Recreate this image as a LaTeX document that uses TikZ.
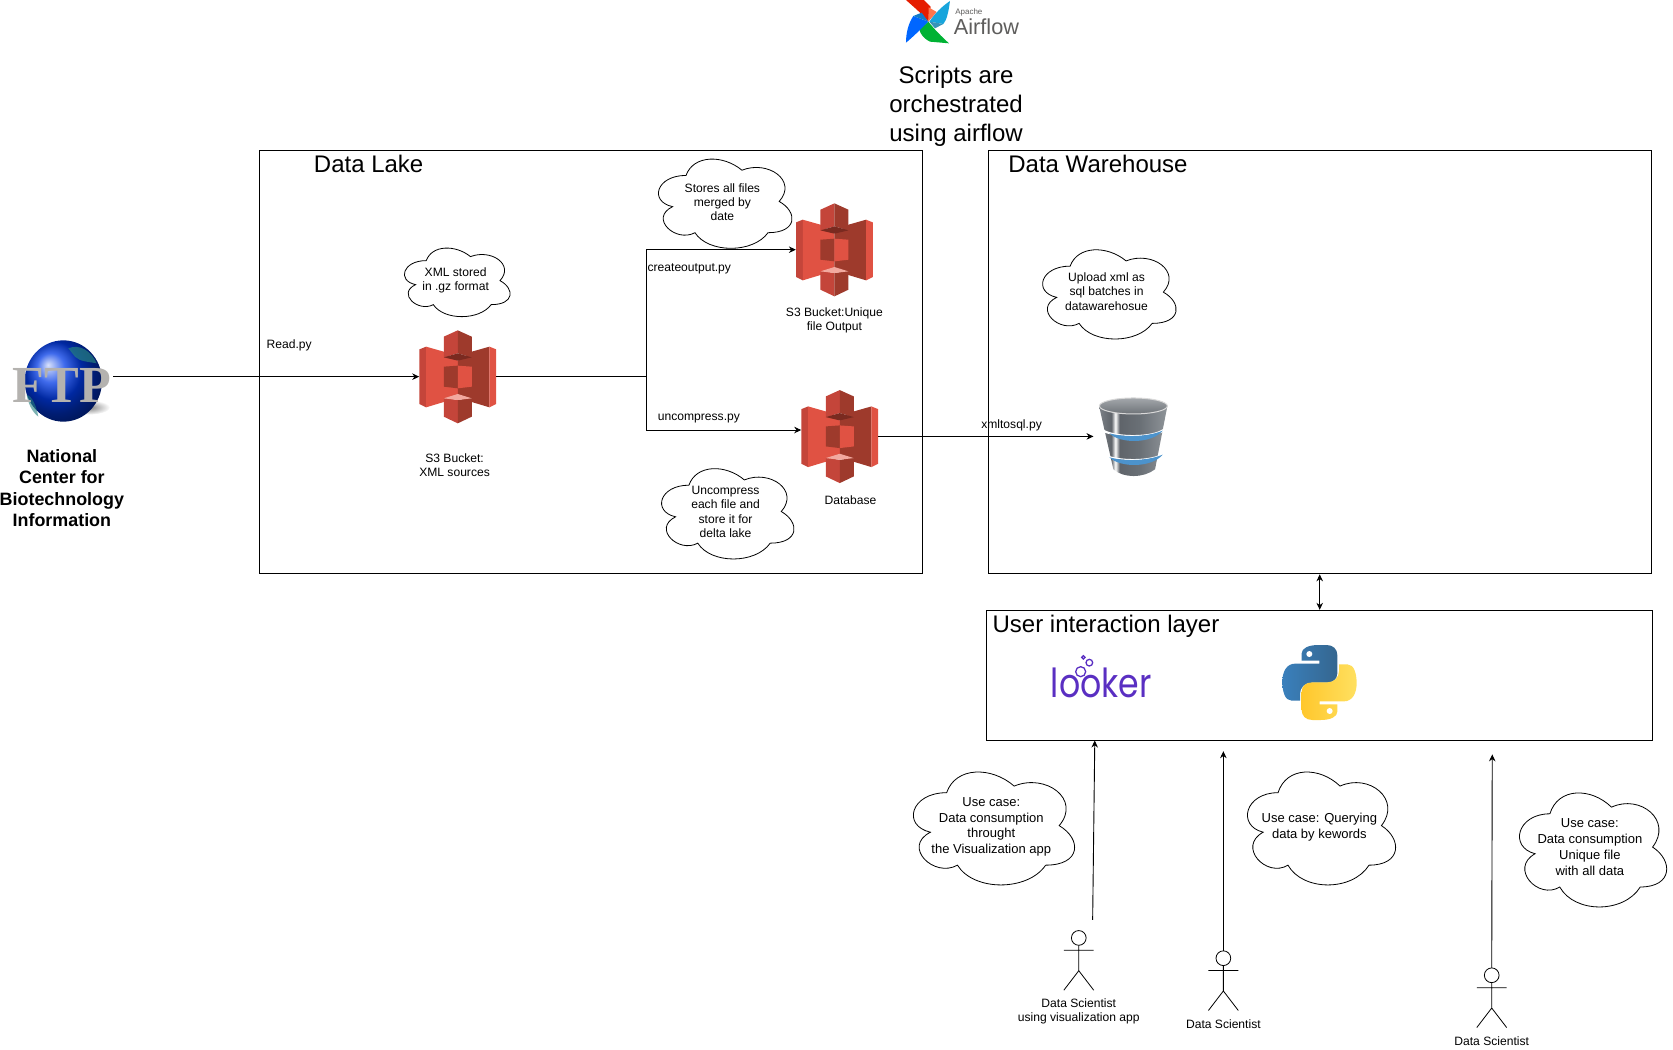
\documentclass[tikz,border=0pt]{standalone}
\usepackage{fontspec}
\setmainfont{Liberation Sans}
\newfontfamily\ftpface{Liberation Serif}
\newfontfamily\lookerface[FakeStretch=.83]{Poppins}
\usepackage{xcolor}
\usetikzlibrary{arrows.meta}

\definecolor{sthreeA}{HTML}{E05243}
\definecolor{sthreeB}{HTML}{C4453A}
\definecolor{sthreeC}{HTML}{9E3A2C}
\definecolor{sthreeD}{HTML}{7A2A20}
\definecolor{sthreeE}{HTML}{F2A99F}
\definecolor{lookerpurple}{HTML}{5A2FC2}
\definecolor{pyblueA}{HTML}{3A80BC}
\definecolor{pyblueB}{HTML}{35668F}
\definecolor{pyyellowA}{HTML}{FFC72C}
\definecolor{pyyellowB}{HTML}{FFE060}
\definecolor{ftpgrey}{HTML}{B4B2AF}
\definecolor{airgrey}{HTML}{5E5D5C}
\definecolor{dbA}{HTML}{7C8187}
\definecolor{dbB}{HTML}{5F646A}
\definecolor{dbC}{HTML}{6A7076}
\definecolor{dbD}{HTML}{8F9499}
\definecolor{dbE}{HTML}{A3A7AB}
\definecolor{dbF}{HTML}{6E7378}
\definecolor{dbband}{HTML}{4C93CC}

\pgfdeclarehorizontalshading{dbbody}{100bp}{
	color(0bp)=(dbA);
	color(25bp)=(dbA);
	color(34bp)=(dbB);
	color(37bp)=(white);
	color(40bp)=(dbB);
	color(55bp)=(dbC);
	color(75bp)=(dbD);
	color(100bp)=(dbD)}

\tikzset{
	panel/.style={draw,line width=1pt,inner sep=0pt},
	small/.style={align=center,inner sep=0pt,yshift=-.6pt,font=\fontsize{12.1}{14.4}\selectfont},
	medium/.style={align=center,inner sep=0pt,yshift=-2pt,font=\fontsize{13}{15.7}\selectfont},
	title/.style={align=center,inner sep=0pt,font=\fontsize{24}{28.8}\selectfont},
	flow/.style={line width=.9pt,-{Stealth[length=7pt,width=6.5pt]}},
	pics/bubble/.style 2 args={code={
		\draw[line width=.8pt] (0.25*#1,0.25*#2)
			.. controls (0.05*#1,0.25*#2) and (0,0.5*#2) .. (0.16*#1,0.55*#2)
			.. controls (0,0.66*#2) and (0.18*#1,0.9*#2) .. (0.31*#1,0.8*#2)
			.. controls (0.4*#1,#2) and (0.7*#1,#2) .. (0.8*#1,0.8*#2)
			.. controls (#1,0.8*#2) and (#1,0.6*#2) .. (0.875*#1,0.5*#2)
			.. controls (#1,0.3*#2) and (0.8*#1,0.1*#2) .. (0.625*#1,0.2*#2)
			.. controls (0.5*#1,0.05*#2) and (0.3*#1,0.05*#2) .. cycle;
	}},
	pics/sthree/.style={code={
		\node[inner sep=0pt,minimum width=76.7pt,minimum height=93pt] (-box) at (0,0) {};
		\begin{scope}[x=.3333pt,y=-.3333pt]
			% wings
			\fill[sthreeB] (-115,-82) -- (-95,-90) -- (-95,92) -- (-115,82) -- cycle;
			\fill[sthreeA] (-95,-90) -- (-42,-75) -- (0,-48) -- (0,65) -- (-42,76) -- (-95,92) -- cycle;
			\fill[sthreeC] (95,-90) -- (42,-75) -- (0,-48) -- (0,65) -- (42,76) -- (95,92) -- cycle;
			\fill[sthreeA] (95,-90) -- (115,-82) -- (115,82) -- (95,92) -- cycle;
			% middle
			\fill[sthreeC] (-42,-30) -- (0,-33) -- (0,35) -- (-42,30) -- cycle;
			\fill[sthreeA] (42,-30) -- (0,-33) -- (0,35) -- (42,30) -- cycle;
			% top
			\fill[sthreeB] (-42,-120) -- (0,-139) -- (0,-70) -- (-42,-58) -- cycle;
			\fill[sthreeC] (42,-120) -- (0,-139) -- (0,-70) -- (42,-58) -- cycle;
			\fill[sthreeD] (-42,-58) -- (0,-70) -- (42,-58) -- (0,-48) -- cycle;
			% bottom
			\fill[sthreeB] (-42,65) -- (0,70) -- (0,140) -- (-42,120) -- cycle;
			\fill[sthreeC] (42,65) -- (0,70) -- (0,140) -- (42,120) -- cycle;
			\fill[sthreeE] (-42,65) -- (0,52) -- (42,65) -- (0,70) -- cycle;
		\end{scope}
	}},
	pics/actor/.style={code={
		\coordinate (-top) at (0,0);
		\draw[line width=.8pt] (0,7) circle (6.9);
		\draw[line width=.8pt] (0,14) -- (0,37.7) (-14,18.6) -- (14,18.6) (-14,56) -- (0,37.7) -- (14,56);
	}}
}

\begin{document}
\begin{tikzpicture}[x=1.067pt,y=-1.067pt]
	\useasboundingbox (0,0) rectangle (1567.9,983.1);

	% Boxes
	\node[panel,minimum width=663.4pt,minimum height=423.5pt] (lake) at (553.8,339.3) {};
	\node[panel,minimum width=663.4pt,minimum height=423.5pt] (warehouse) at (1236.8,339.3) {};
	\node[panel,minimum width=665.6pt,minimum height=130pt] (userlayer) at (1236.4,632.9) {};
	\node[title] (laketitle) at (345.5,153.5) {Data Lake};
	\node[title] (warehousetitle) at (1029,153.5) {Data Warehouse};
	\node[title] (usertitle) at (1036.5,586.5) {User interaction layer};

	% Airflow
	\begin{scope}[shift={(824.7,0)},x=.3333pt,y=-.3333pt]
		\fill[red!75!orange!90!black] (78,0) -- (132,0) -- (152,20) -- (145,65) .. controls (125,40) and (100,20) .. cycle;
		\fill[red!55!orange!70!white] (146,22) -- (170,36) -- (145,65) -- cycle;
		\fill[cyan!80!teal] (210,3) .. controls (205,40) and (200,60) .. (190,72) -- (148,65) .. controls (165,40) and (185,20) .. cycle;
		\fill[cyan!60!teal!90!black] (190,72) -- (148,65) -- (165,85) -- cycle;
		\fill[green!55!teal!90!black] (207,130) -- (150,125) .. controls (130,115) and (120,100) .. (118,88) -- (145,65) .. controls (165,90) and (185,110) .. cycle;
		\fill[blue!60!cyan] (78,128) .. controls (78,100) and (85,70) .. (100,48) -- (145,65) .. controls (125,85) and (100,110) .. cycle;
		\fill[cyan!60!blue] (100,48) -- (125,38) -- (145,65) -- cycle;
	\end{scope}
	\node[inner sep=0pt,text=airgrey,font=\fontsize{8}{8}\selectfont] (apache) at (908,11.5) {Apache};
	\node[inner sep=0pt,text=airgrey,font=\fontsize{21.7}{22}\selectfont] (airflow) at (924.5,25) {Airflow};
	\node[title] (scripts) at (896,99.5) {Scripts are\\orchestrated\\using airflow};

	% FTP
	\begin{scope}[shift={(0,299.9)},x=.3333pt,y=-.3333pt]
		\shade[inner color=black!50,outer color=white] (265,262) ellipse (65 and 22);
		\shade[ball color=blue!75!cyan!90!black] (190,183) ellipse (116 and 122);
		\fill[teal!70!gray,opacity=.7] (205,85) .. controls (240,70) and (275,95) .. (290,130) .. controls (265,125) and (240,125) .. (225,110) -- cycle;
		\fill[teal!70!gray,opacity=.6] (80,225) .. controls (95,225) and (110,260) .. (115,290) .. controls (95,275) and (85,250) .. cycle;
		\node[inner sep=0pt,text=ftpgrey,font=\ftpface\bfseries\fontsize{52}{52}\selectfont] (ftp) at (185,195) {FTP};
	\end{scope}
	\coordinate (ftpout) at (106,353);
	\node[inner sep=0pt,align=center,font=\bfseries\fontsize{17.9}{21.4}\selectfont] (ncbi) at (58,457.5) {National\\Center for\\Biotechnology\\Information};

	% Buckets
	\pic (source) at (429,353) {sthree};
	\pic (output) at (782,234) {sthree};
	\pic (database) at (787,409) {sthree};
	\node[small] (sourcelabel) at (426,435.5) {S3 Bucket:\\XML sources};
	\node[small] (outputlabel) at (782,299.5) {S3 Bucket:Unique\\file Output};
	\node[small] (databaselabel) at (797,468) {Database};

	% Warehouse database
	\node[inner sep=0pt,minimum width=79pt,minimum height=85pt] (dwh) at (1062,409) {};
	\begin{scope}[shift={(1012.2,356.1)},x=.3333pt,y=-.3333pt]
		\shade[shading=dbbody] (57,78) -- (100,268) .. controls (130,295) and (190,295) .. (225,268) -- (262,78) -- cycle;
		\shade[top color=dbE,bottom color=dbF,draw=black!15,line width=1pt] (160,78) ellipse (102 and 24);
		\foreach \y in {0,72} {
			\fill[white] (64,145+\y) .. controls (100,172+\y) and (220,172+\y) .. (252,145+\y) -- (249,156+\y) .. controls (220,172+\y) and (100,172+\y) .. (68,156+\y) -- cycle;
			\fill[dbband] (88,160+\y) .. controls (130,172+\y) and (200,172+\y) .. (248,152+\y) .. controls (215,192+\y) and (120,192+\y) .. cycle;
		}
	\end{scope}

	% Clouds
	\pic at (371.8,225.5) {bubble={110.6}{75}};
	\pic at (608,140) {bubble={139.7}{97.6}};
	\pic at (611,430) {bubble={138.5}{98.8}};
	\pic at (968,225) {bubble={139.7}{97.6}};
	\pic at (845,712) {bubble={168.7}{123.5}};
	\pic at (1159,712) {bubble={155}{123.5}};
	\pic at (1414,731.5) {bubble={154}{124.7}};
	\node[small] (xmlnote) at (427,262) {XML stored\\in .gz format};
	\node[small] (storenote) at (677,189) {Stores all files\\merged by\\date};
	\node[small] (uncompressnote) at (680,479) {Uncompress\\each file and\\store it for\\delta lake};
	\node[small] (uploadnote) at (1037,272.5) {Upload xml as\\sql batches in\\datawarehosue};
	\node[medium] (vizcase) at (929,773) {Use case:\\Data consumption\\throught\\the Visualization app};
	\node[medium] (querycase) at (1236.5,773) {Use case: Querying\\data by kewords};
	\node[medium] (filecase) at (1490,792) {Use case:\\Data consumption\\Unique file\\with all data};

	% Looker and Python
	\begin{scope}[shift={(965.3,599.8)},x=.3333pt,y=-.3333pt]
		\node[anchor=base west,inner sep=0pt,text=lookerpurple,font=\lookerface\fontsize{40}{40}\selectfont] (looker) at (62,172) {looker};
		\draw[lookerpurple,line width=1.3pt] (152,95) circle (15) (178,68) circle (10) (160,52) circle (5);
		\newcommand{\snake}{(815,40) .. controls (815,25) and (835,15) .. (865,15) -- (890,15)
			.. controls (910,15) and (922,28) .. (922,45) -- (922,100)
			.. controls (922,118) and (908,128) .. (890,128) -- (845,128)
			.. controls (825,128) and (810,142) .. (810,162) -- (810,182) -- (785,182)
			.. controls (765,182) and (757,155) .. (757,125)
			.. controls (757,95) and (770,71) .. (795,71) -- (868,71) -- (868,62) -- (815,62) -- cycle}
		\shade[left color=pyblueA,right color=pyblueB] \snake;
		\fill[white] (838,42) circle (9);
		\begin{scope}[rotate around={180:(868.5,127.5)}]
			\shade[left color=pyyellowA,right color=pyyellowB] \snake;
			\fill[white] (838,42) circle (9);
		\end{scope}
	\end{scope}

	% Actors
	\pic (analyst) at (1011,872) {actor};
	\pic (searcher) at (1146.5,891) {actor};
	\pic (consumer) at (1398,907) {actor};
	\node[small] (analystlabel) at (1011,947.5) {Data Scientist\\using visualization app};
	\node[small] (searcherlabel) at (1146.5,959) {Data Scientist};
	\node[small] (consumerlabel) at (1398,975) {Data Scientist};

	% Connectors
	\coordinate (split) at (606,353);
	\coordinate (analystfoot) at (1024,862);
	\coordinate (analysthead) at (1026,694);
	\coordinate (searcherhead) at (1146.5,704);
	\coordinate (consumerhead) at (1398.5,707);
	\draw[flow] (ftpout) -- (source-box.west);
	\draw[flow] (source-box.east) -- (split) |- (output-box.west);
	\draw[flow] (source-box.east) -- (split) |- ([yshift=6.4pt]database-box.west);
	\draw[flow] (database-box.east) -- (dwh.west);
	\draw[line width=.9pt,{Stealth[length=7pt,width=6.5pt]}-{Stealth[length=7pt,width=6.5pt]}] (warehouse.south) -- (warehouse.south |- userlayer.north);
	\draw[flow] (analystfoot) -- (analysthead);
	\draw[flow] (searcher-top) -- (searcherhead);
	\draw[flow] (consumer-top) -- (consumerhead);

	% Arrow labels
	\node[small] (readlabel) at (271,323) {Read.py};
	\node[small] (createlabel) at (646,251) {createoutput.py};
	\node[small] (uncompresslabel) at (655,392) {uncompress.py};
	\node[small] (sqllabel) at (948,398) {xmltosql.py};
\end{tikzpicture}
\end{document}
